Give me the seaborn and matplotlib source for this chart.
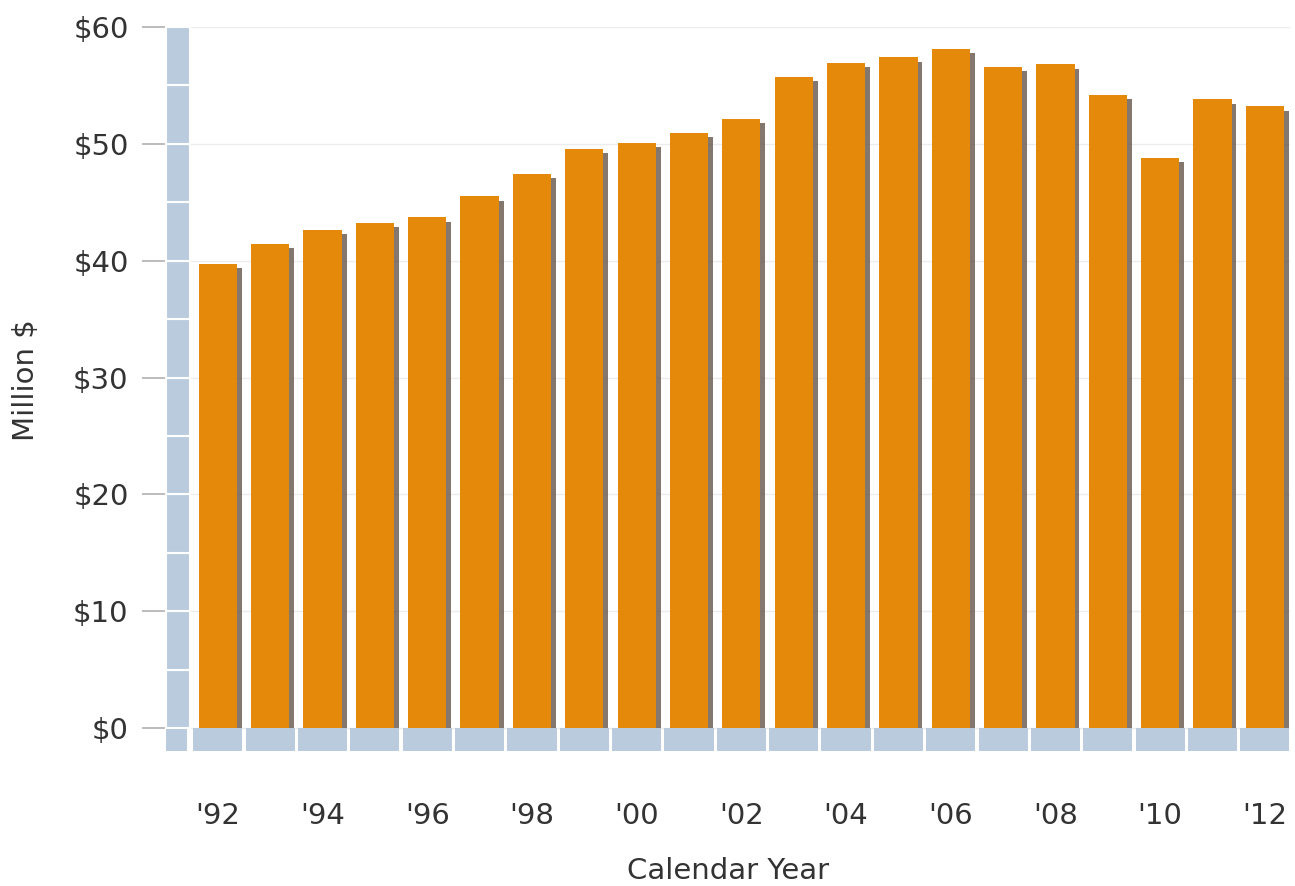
import matplotlib
matplotlib.use("Agg")
import matplotlib.pyplot as plt
import matplotlib.patheffects as pe
from matplotlib.patches import Rectangle
import seaborn as sns
import pandas as pd

years = ["'92", "'93", "'94", "'95", "'96", "'97", "'98", "'99", "'00", "'01", "'02",
         "'03", "'04", "'05", "'06", "'07", "'08", "'09", "'10", "'11", "'12"]
values = [39.7, 41.4, 42.6, 43.2, 43.7, 45.5, 47.4, 49.6, 50.1, 50.9, 52.1,
          55.7, 56.9, 57.4, 58.1, 56.6, 56.8, 54.2, 48.8, 53.8, 53.2]
y_ticks = [0, 10, 20, 30, 40, 50, 60]
y_tick_labels = ["$0", "$10", "$20", "$30", "$40", "$50", "$60"]
x_label = "Calendar Year"
y_label = "Million $"

bar_color = "#E5890A"
wall_color = "#B9CBDC"
text_color = "#333333"

sns.set_style("white")
plt.rcParams["font.family"] = ["DejaVu Sans"]

fig = plt.figure(figsize=(12.95, 8.86), dpi=100)
ax = fig.add_axes([166/1295, 1-752/886, (1290-166)/1295, (752-27)/886])

df = pd.DataFrame({"year": years, "value": values})
sns.barplot(data=df, x="year", y="value", order=years, color=bar_color,
            saturation=1, width=0.73, ax=ax, zorder=3)

for p in ax.patches:
    p.set_path_effects([pe.SimplePatchShadow(offset=(3.5, -3.0), shadow_rgbFace="#65564a", alpha=0.8),
                        pe.Normal()])
    p.set_edgecolor("none")

# 3D-style wall and floor
for k in range(12):
    ax.add_patch(Rectangle((-0.99, k*5), 0.46, 5, facecolor=wall_color,
                           edgecolor="white", lw=1.5, zorder=2, clip_on=False))
ax.add_patch(Rectangle((-0.99, -2.0), 0.40, 1.95, facecolor=wall_color,
                       edgecolor="none", zorder=5, clip_on=False))
for i in range(len(years)):
    ax.add_patch(Rectangle((i-0.47, -2.0), 0.94, 2.0, facecolor=wall_color,
                           edgecolor="none", zorder=5, clip_on=False))

ax.set_xlim(-0.99, 20.48)
ax.set_ylim(-2.05, 60)

ax.set_yticks(y_ticks)
ax.set_yticklabels(y_tick_labels)
ax.set_xticks(range(0, len(years), 2))
ax.set_xticklabels(years[::2])

ax.yaxis.grid(True, color="#ececec", lw=1)
ax.xaxis.grid(False)
ax.set_axisbelow(True)
for s in ax.spines.values():
    s.set_visible(False)

ax.tick_params(axis="y", length=17, width=1.2, color="#b0b0b0", pad=10,
               labelsize=21, labelcolor=text_color, left=True)
ax.tick_params(axis="x", length=0, pad=36, labelsize=21, labelcolor=text_color)

ax.set_xlabel(x_label, fontsize=21, color=text_color)
ax.set_ylabel(y_label, fontsize=21, color=text_color)
ax.xaxis.set_label_coords(0.5, -0.145)
ax.yaxis.set_label_coords(-0.112, 0.513)

fig.savefig("out.png", dpi=100)
